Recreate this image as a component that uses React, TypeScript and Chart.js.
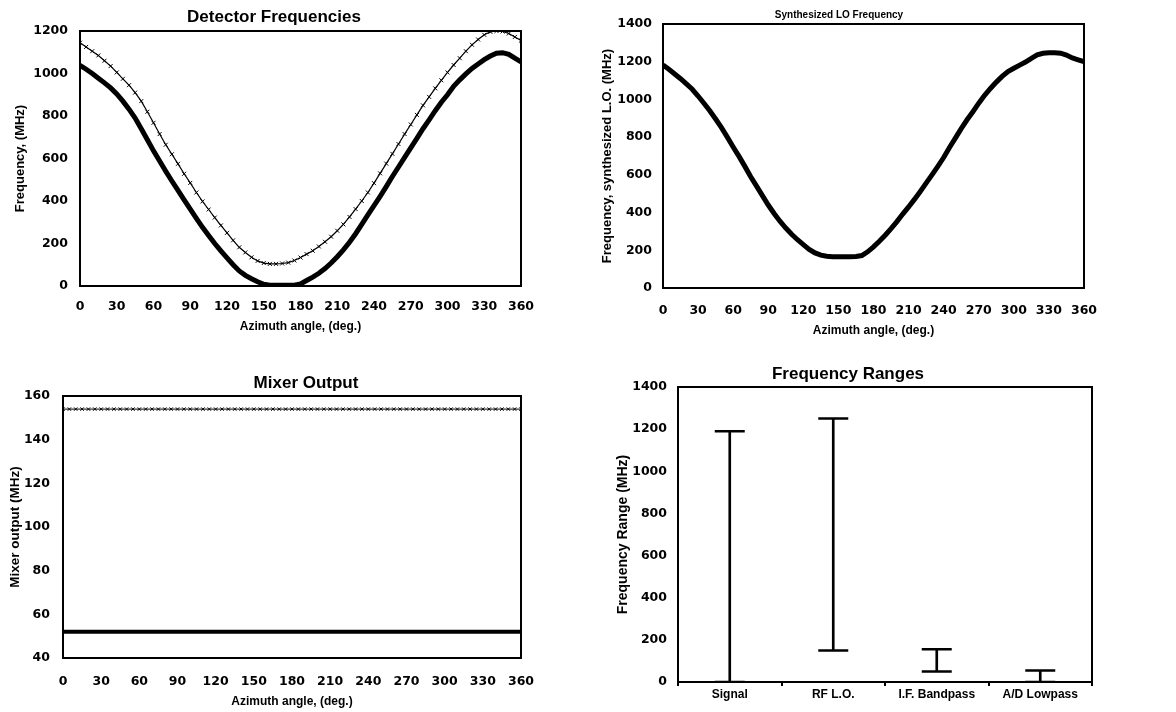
import { useEffect, useRef } from "react";
import { Chart, registerables } from "chart.js";

Chart.register(...registerables);

// Azimuth sample points (degrees)
const azimuth = [
  0, 5, 10, 15, 20, 25, 30, 35, 40, 45, 50, 55, 60, 65, 70, 75, 80, 85, 90, 95,
  100, 105, 110, 115, 120, 125, 130, 135, 140, 145, 150, 155, 160, 165, 170, 175,
  180, 185, 190, 195, 200, 205, 210, 215, 220, 225, 230, 235, 240, 245, 250, 255,
  260, 265, 270, 275, 280, 285, 290, 295, 300, 305, 310, 315, 320, 325, 330, 335,
  340, 345, 350, 355, 360,
];

// Detector frequency, upper branch (MHz)
const detectorUpper = [
  1145, 1125, 1105, 1085, 1060, 1035, 1005, 975, 945, 910, 870, 820, 768, 715, 665, 620,
  575, 528, 485, 440, 398, 360, 322, 285, 250, 215, 182, 158, 135, 118, 108, 104,
  104, 106, 110, 120, 134, 150, 166, 186, 208, 232, 260, 290, 325, 362, 400, 440,
  484, 530, 576, 622, 668, 715, 760, 805, 850, 890, 930, 968, 1005, 1040, 1072, 1105,
  1135, 1160, 1182, 1196, 1200, 1198, 1188, 1172, 1155,
];

// Detector frequency, lower branch (MHz)
const detectorLower = [
  1038, 1020, 1000, 978, 956, 932, 904, 870, 832, 790, 740, 688, 636, 588, 540, 494,
  450, 405, 362, 318, 276, 238, 200, 165, 132, 100, 71, 50, 34, 20, 8, 4,
  3, 3, 3, 4, 10, 26, 42, 60, 82, 108, 138, 170, 206, 246, 290, 335,
  378, 422, 468, 515, 560, 605, 650, 695, 740, 782, 825, 865, 900, 940, 970, 998,
  1024, 1045, 1065, 1082, 1095, 1098, 1090, 1072, 1055,
];

// Synthesized local oscillator frequency (MHz)
const loFrequency = [
  1183, 1160, 1135, 1110, 1082, 1054, 1018, 980, 940, 896, 850, 800, 748, 698, 645, 590,
  540, 490, 440, 395, 354, 318, 285, 256, 230, 205, 186, 174, 168, 166, 166, 166,
  166, 167, 172, 192, 218, 248, 280, 315, 352, 392, 430, 470, 512, 556, 600, 645,
  692, 745, 795, 845, 892, 935, 980, 1022, 1058, 1092, 1122, 1148, 1165, 1182, 1198, 1218,
  1236, 1245, 1248, 1248, 1245, 1235, 1220, 1210, 1200,
];

// Mixer output, two products (MHz)
const mixerUpper = [
  154, 154, 154, 154, 154, 154, 154, 154, 154, 154, 154, 154, 154, 154, 154, 154,
  154, 154, 154, 154, 154, 154, 154, 154, 154, 154, 154, 154, 154, 154, 154, 154,
  154, 154, 154, 154, 154, 154, 154, 154, 154, 154, 154, 154, 154, 154, 154, 154,
  154, 154, 154, 154, 154, 154, 154, 154, 154, 154, 154, 154, 154, 154, 154, 154,
  154, 154, 154, 154, 154, 154, 154, 154, 154,
];
const mixerLower = [
  52, 52, 52, 52, 52, 52, 52, 52, 52, 52, 52, 52, 52, 52, 52, 52,
  52, 52, 52, 52, 52, 52, 52, 52, 52, 52, 52, 52, 52, 52, 52, 52,
  52, 52, 52, 52, 52, 52, 52, 52, 52, 52, 52, 52, 52, 52, 52, 52,
  52, 52, 52, 52, 52, 52, 52, 52, 52, 52, 52, 52, 52, 52, 52, 52,
  52, 52, 52, 52, 52, 52, 52, 52, 52,
];

// Frequency ranges per stage (MHz)
const rangeStages = ["Signal", "RF L.O.", "I.F. Bandpass", "A/D Lowpass"];
const rangeLow = [0, 150, 50, 0];
const rangeHigh = [1190, 1250, 155, 55];

const SANS = "'Liberation Sans', Arial, sans-serif";
const TICK_FAMILY = "'DejaVu Sans', sans-serif";

const toPoints = (ys: number[]) => azimuth.map((x, i) => ({ x, y: ys[i] }));
const plainNumber = (v: any) => String(v);

// Black frame around the plotting area
const framePlugin = {
  id: "frame",
  afterDraw(chart: any) {
    const { ctx, chartArea } = chart;
    const { left, top, right, bottom } = chartArea;
    ctx.save();
    ctx.strokeStyle = "#000";
    ctx.lineWidth = 2;
    ctx.strokeRect(left, top, right - left, bottom - top);
    ctx.restore();
  },
};

// Chart heading placed at a fixed spot on the canvas
const headingPlugin = {
  id: "heading",
  afterDraw(chart: any, _args: any, opts: any) {
    const { ctx } = chart;
    ctx.save();
    ctx.fillStyle = "#000";
    ctx.font = opts.fontSpec;
    ctx.textAlign = "center";
    ctx.textBaseline = "middle";
    ctx.fillText(opts.text, opts.x, opts.y);
    ctx.restore();
  },
};

type Box = { left: number; top: number; width: number; height: number };

function Panel({ box, build }: { box: Box; build: () => any }) {
  const ref = useRef<HTMLCanvasElement | null>(null);
  useEffect(() => {
    const chart = new Chart(ref.current as HTMLCanvasElement, build());
    return () => chart.destroy();
  }, []);
  return (
    <canvas
      ref={ref}
      width={box.width}
      height={box.height}
      style={{
        position: "absolute",
        left: box.left,
        top: box.top,
        width: box.width,
        height: box.height,
      }}
    />
  );
}

type AxisSpec = {
  yMin: number;
  yMax: number;
  yStep: number;
  yWidth: number;
  yTickPad: number;
  yTitle: string;
  yTitleSize: number;
  yTitlePad: number;
  xHeight: number;
  xTickPad: number;
  xTitlePad: number;
};

function angleScales(s: AxisSpec) {
  return {
    x: {
      type: "linear",
      min: 0,
      max: 360,
      afterFit: (scale: any) => {
        scale.height = s.xHeight;
      },
      ticks: {
        stepSize: 30,
        autoSkip: false,
        maxRotation: 0,
        padding: s.xTickPad,
        color: "#000",
        callback: plainNumber,
        font: { family: TICK_FAMILY, size: 12.5, weight: "bold" },
      },
      grid: { display: false, drawTicks: false },
      border: { display: false },
      title: {
        display: true,
        text: "Azimuth angle, (deg.)",
        color: "#000",
        font: { family: SANS, size: 12, weight: "bold" },
        padding: { top: 0, bottom: s.xTitlePad },
      },
    },
    y: {
      type: "linear",
      min: s.yMin,
      max: s.yMax,
      afterFit: (scale: any) => {
        scale.width = s.yWidth;
      },
      ticks: {
        stepSize: s.yStep,
        padding: s.yTickPad,
        color: "#000",
        callback: plainNumber,
        font: { family: TICK_FAMILY, size: 12.5, weight: "bold" },
      },
      grid: { display: false, drawTicks: false },
      border: { display: false },
      title: {
        display: true,
        text: s.yTitle,
        color: "#000",
        font: { family: SANS, size: s.yTitleSize, weight: "bold" },
        padding: { top: s.yTitlePad, bottom: 0 },
      },
    },
  };
}

const basePlugins = {
  legend: { display: false },
  tooltip: { enabled: false },
};

function detectorConfig() {
  return {
    type: "line",
    data: {
      datasets: [
        {
          data: toPoints(detectorUpper),
          borderColor: "#000",
          borderWidth: 1.2,
          pointStyle: "crossRot",
          pointRadius: 2.8,
          pointBorderWidth: 1,
          pointBorderColor: "#000",
        },
        {
          data: toPoints(detectorLower),
          borderColor: "#000",
          borderWidth: 5,
          pointRadius: 0,
        },
      ],
    },
    options: {
      responsive: false,
      animation: false,
      layout: { padding: { left: 0, top: 31, right: 27, bottom: 0 } },
      scales: angleScales({
        yMin: 0, yMax: 1200, yStep: 200, yWidth: 80, yTickPad: 12,
        yTitle: "Frequency, (MHz)", yTitleSize: 13, yTitlePad: 12.2,
        xHeight: 54, xTickPad: 13.2, xTitlePad: 5.8,
      }),
      plugins: {
        ...basePlugins,
        heading: { text: "Detector Frequencies", x: 274, y: 17.5, fontSpec: `bold 17px ${SANS}` },
      },
    },
    plugins: [framePlugin, headingPlugin],
  };
}

function loConfig() {
  return {
    type: "line",
    data: {
      datasets: [
        {
          data: toPoints(loFrequency),
          borderColor: "#000",
          borderWidth: 5,
          pointRadius: 0,
        },
      ],
    },
    options: {
      responsive: false,
      animation: false,
      layout: { padding: { left: 0, top: 24, right: 92, bottom: 0 } },
      scales: angleScales({
        yMin: 0, yMax: 1400, yStep: 200, yWidth: 83, yTickPad: 11,
        yTitle: "Frequency, synthesized L.O. (MHz)", yTitleSize: 13, yTitlePad: 19.5,
        xHeight: 57, xTickPad: 15.2, xTitlePad: 6.8,
      }),
      plugins: {
        ...basePlugins,
        heading: { text: "Synthesized LO Frequency", x: 259, y: 15, fontSpec: `bold 10px ${SANS}` },
      },
    },
    plugins: [framePlugin, headingPlugin],
  };
}

function mixerConfig() {
  return {
    type: "line",
    data: {
      datasets: [
        {
          data: toPoints(mixerUpper),
          borderColor: "#000",
          borderWidth: 1,
          pointStyle: "crossRot",
          pointRadius: 2.4,
          pointBorderWidth: 1,
          pointBorderColor: "#000",
        },
        {
          data: toPoints(mixerLower),
          borderColor: "#000",
          borderWidth: 4,
          pointRadius: 0,
        },
      ],
    },
    options: {
      responsive: false,
      animation: false,
      layout: { padding: { left: 0, top: 51, right: 39, bottom: 0 } },
      scales: angleScales({
        yMin: 40, yMax: 160, yStep: 20, yWidth: 63, yTickPad: 13,
        yTitle: "Mixer output (MHz)", yTitleSize: 13.5, yTitlePad: 7.2,
        xHeight: 54, xTickPad: 16.2, xTitlePad: 2.8,
      }),
      plugins: {
        ...basePlugins,
        heading: { text: "Mixer Output", x: 306, y: 38, fontSpec: `bold 17px ${SANS}` },
      },
    },
    plugins: [framePlugin, headingPlugin],
  };
}

function rangesConfig() {
  const capStyle = {
    type: "line",
    showLine: false,
    borderColor: "#000",
    pointStyle: "line",
    pointRadius: 15,
    pointBorderWidth: 2.5,
    pointBorderColor: "#000",
  };
  return {
    type: "bar",
    data: {
      labels: rangeStages,
      datasets: [
        {
          type: "bar",
          data: rangeLow.map((lo, i) => [lo, rangeHigh[i]]),
          backgroundColor: "#000",
          borderWidth: 0,
          barThickness: 2,
        },
        { ...capStyle, data: rangeHigh },
        { ...capStyle, data: rangeLow },
      ],
    },
    options: {
      responsive: false,
      animation: false,
      layout: { padding: { left: 0, top: 42, right: 84, bottom: 0 } },
      scales: {
        x: {
          type: "category",
          offset: true,
          afterFit: (scale: any) => {
            scale.height = 30;
          },
          ticks: {
            padding: 1.8,
            color: "#000",
            font: { family: SANS, size: 12, weight: "bold" },
          },
          grid: {
            display: true,
            offset: true,
            drawOnChartArea: false,
            drawTicks: true,
            tickLength: 4,
            color: "#000",
            lineWidth: 2,
          },
          border: { display: false },
        },
        y: {
          type: "linear",
          min: 0,
          max: 1400,
          afterFit: (scale: any) => {
            scale.width = 98;
          },
          ticks: {
            stepSize: 200,
            padding: 11,
            color: "#000",
            callback: plainNumber,
            font: { family: TICK_FAMILY, size: 12.5, weight: "bold" },
          },
          grid: { display: false, drawTicks: false },
          border: { display: false },
          title: {
            display: true,
            text: "Frequency Range (MHz)",
            color: "#000",
            font: { family: SANS, size: 14, weight: "bold" },
            padding: { top: 34.6, bottom: 0 },
          },
        },
      },
      plugins: {
        ...basePlugins,
        heading: { text: "Frequency Ranges", x: 268, y: 29, fontSpec: `bold 17px ${SANS}` },
      },
    },
    plugins: [framePlugin, headingPlugin],
  };
}

export default function App() {
  return (
    <div
      style={{
        position: "fixed",
        left: 0,
        top: 0,
        width: 1176,
        height: 712,
        background: "#fff",
        overflow: "hidden",
      }}
    >
      <Panel box={{ left: 0, top: 0, width: 548, height: 340 }} build={detectorConfig} />
      <Panel box={{ left: 580, top: 0, width: 596, height: 345 }} build={loConfig} />
      <Panel box={{ left: 0, top: 345, width: 560, height: 367 }} build={mixerConfig} />
      <Panel box={{ left: 580, top: 345, width: 596, height: 367 }} build={rangesConfig} />
    </div>
  );
}
